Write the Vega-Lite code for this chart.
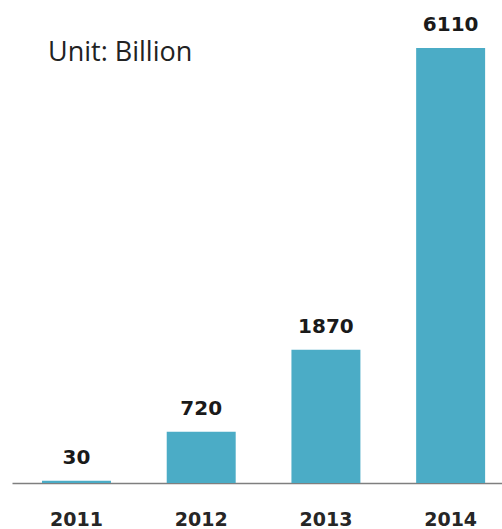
{
  "$schema": "https://vega.github.io/schema/vega-lite/v6.json",
  "autosize": "none",
  "padding": {"left": 12, "top": 0, "right": 0, "bottom": 46},
  "width": 490,
  "height": 483,
  "background": "white",
  "config": {"view": {"stroke": null}},
  "title": {
    "text": "Unit: Billion",
    "anchor": "start",
    "frame": "group",
    "orient": "top",
    "offset": 0,
    "baseline": "alphabetic",
    "dx": 36,
    "dy": 88,
    "font": "Open Sans",
    "fontSize": 27,
    "fontWeight": "normal",
    "color": "#222222"
  },
  "data": {
    "values": [
      {"year": "2011", "value": 30},
      {"year": "2012", "value": 720},
      {"year": "2013", "value": 1870},
      {"year": "2014", "value": 6110}
    ]
  },
  "encoding": {
    "x": {
      "field": "year",
      "type": "nominal",
      "sort": null,
      "scale": {"paddingInner": 0.447, "paddingOuter": 0.188, "align": 0.64},
      "axis": {
        "title": null,
        "labelAngle": 0,
        "ticks": false,
        "tickSize": 0,
        "domainColor": "#7f7f7f",
        "domainWidth": 1.5,
        "labelFont": "DejaVu Sans",
        "labelFontSize": 19,
        "labelFontWeight": "bold",
        "labelColor": "#262626",
        "labelBaseline": "alphabetic",
        "labelPadding": 42
      }
    },
    "y": {
      "field": "value",
      "type": "quantitative",
      "scale": {"domain": [0, 6784], "nice": false, "zero": true},
      "axis": null
    }
  },
  "layer": [
    {"mark": {"type": "bar", "color": "#4BACC6"}},
    {
      "mark": {
        "type": "text",
        "baseline": "alphabetic",
        "dy": -17,
        "font": "DejaVu Sans",
        "fontSize": 20,
        "fontWeight": "bold",
        "color": "#1a1a1a"
      },
      "encoding": {"text": {"field": "value", "type": "quantitative", "format": "d"}}
    }
  ]
}
